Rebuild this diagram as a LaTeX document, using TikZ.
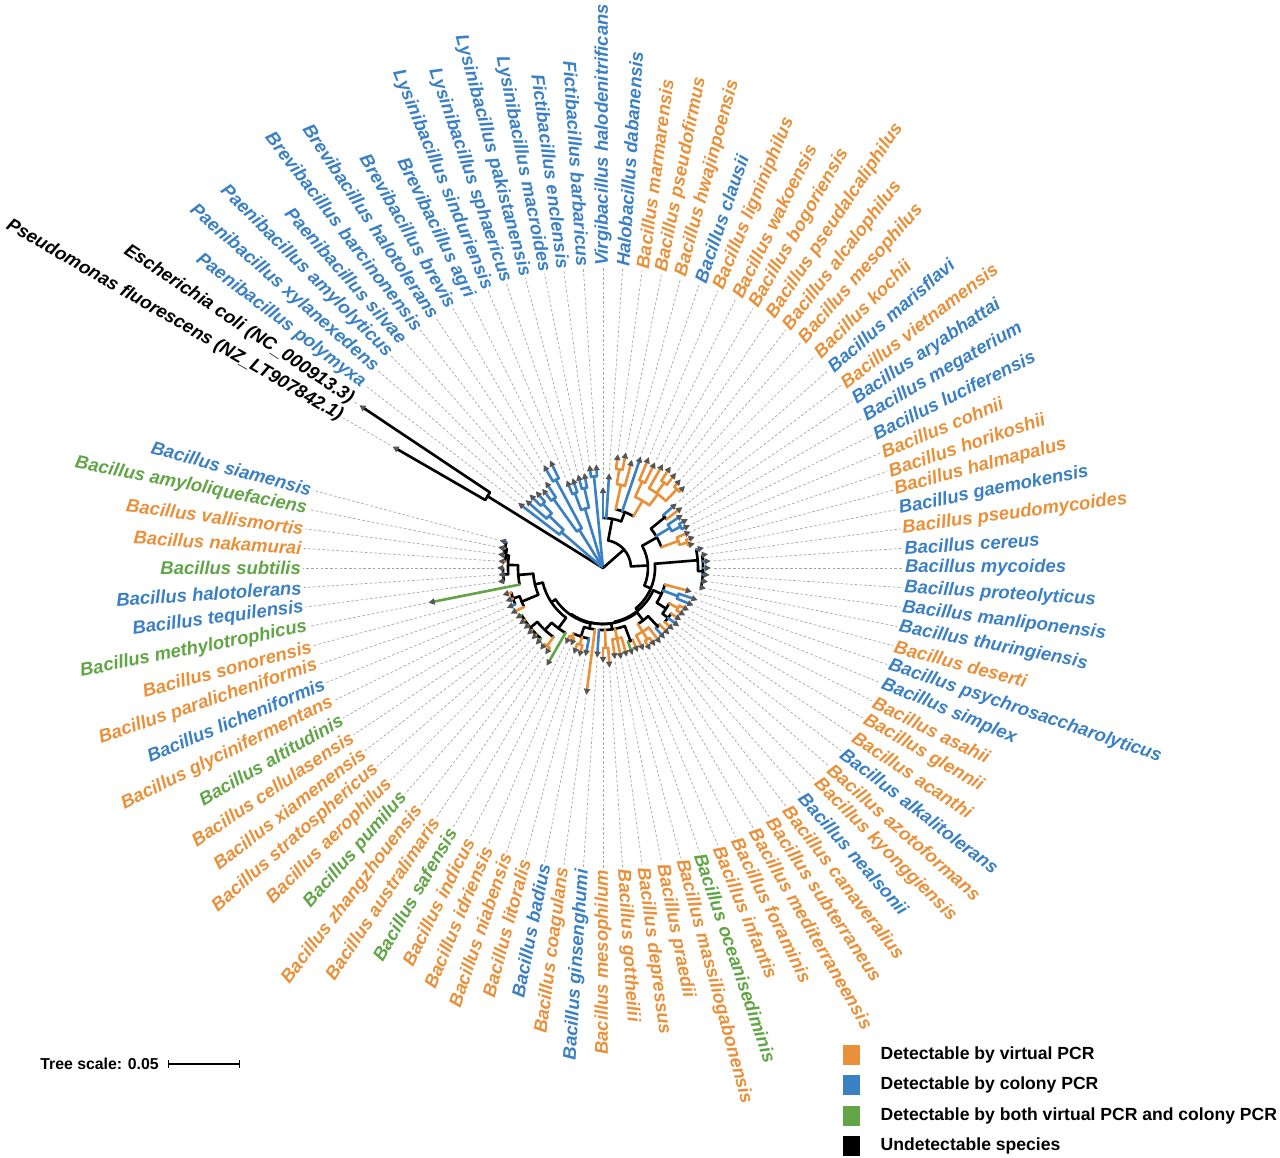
\documentclass[tikz,border=0pt]{standalone}
\usepackage{fontspec}
\setmainfont{Liberation Sans}
\usetikzlibrary{arrows.meta, positioning}
\definecolor{pcrV}{RGB}{232,145,58}
\definecolor{pcrC}{RGB}{58,128,195}
\definecolor{pcrB}{RGB}{98,165,70}
\definecolor{pcrN}{RGB}{0,0,0}
\definecolor{tipgray}{RGB}{85,85,85}

\begin{document}
\begin{tikzpicture}[
    x=0.02cm, y=0.02cm,
    branch/.style={line width=1.5pt, line cap=round},
    leaftip/.style={-{Triangle[length=3.5pt, width=3.5pt, color=tipgray, fill=tipgray]}},
    leader/.style={draw=gray!70, line width=0.4pt, dash pattern=on 1.5pt off 1.2pt},
    leaf/.style={font=\fontsize{10.5}{12}\selectfont\bfseries\itshape, inner sep=1pt},
    legbox/.style={rectangle, minimum width=0.34cm, minimum height=0.4cm, inner sep=0pt},
    legtext/.style={font=\fontsize{10}{12}\selectfont\bfseries, inner sep=0pt, anchor=west}
]
\useasboundingbox (-603,-590) rectangle (677,568);
\fill[white] (-603,-590) rectangle (677,568);

% internal nodes: first child / last child / radius / colour / parent radius
\foreach \pa/\pb/\r/\cl/\rp in {
    1/2/136/pcrN/0, 9.6875/29.992/1/pcrN/0,
    3.875/15.5/3/pcrC/1, 3/4.75/55/pcrC/3, 4/5.5/75/pcrC/55, 5/6/88/pcrC/75,
    7.5/9.5/45/pcrC/3, 7/8/85/pcrC/45, 9/10/100/pcrC/45,
    11.5/13.5/62/pcrC/3, 11/12/80/pcrC/62, 13/14/82/pcrC/62, 15/16/92/pcrC/3,
    19.844/40.14/28/pcrN/1, 17/22.688/50/pcrN/28, 20.25/25.125/60/pcrN/50,
    19.5/21/85/pcrV/60, 19/20/100/pcrV/85, 23.5/26.75/78/pcrV/60,
    23/24/95/pcrV/78, 25/28.5/92/pcrV/78, 26/27/105/pcrV/92, 28/29/108/pcrV/92,
    33.125/47.154/45/pcrN/28, 30.5/35.75/62/pcrN/45, 30/31/80/pcrN/62,
    32/33.5/78/pcrC/62, 33/34/88/pcrC/78, 35/36.5/80/pcrV/62, 36/37/88/pcrV/80,
    39.75/54.559/52/pcrN/45, 38/41.5/95/pcrN/52, 39/44/100/pcrN/95,
    47.375/61.742/55/pcrN/52, 45/49.75/64/pcrN/55, 46/47/80/pcrC/64,
    48.5/51/75/pcrN/64, 48/49/85/pcrV/75, 50/52/82/pcrN/75,
    55/68.484/56/pcrN/55, 53.5/56.5/66/pcrN/56, 53/54/80/pcrN/66,
    55/58/75/pcrV/66, 56/57/84/pcrV/75,
    62.75/74.219/56/pcrN/56, 59.5/66/62/pcrN/56, 59/60/78/pcrN/62,
    61/63/72/pcrV/62, 64/65/80/pcrV/62,
    68.375/80.063/57/pcrN/56, 67/69.75/62/pcrN/57, 68/71.5/72/pcrN/62,
    69/70/80/pcrV/72, 71/72/76/pcrV/72,
    74.75/85.375/62/pcrN/57, 73/76.5/75/pcrN/62, 74.5/78.5/85/pcrN/75,
    74/75/96/pcrV/85, 76/81/94/pcrN/85,
    83/87.75/70/pcrN/62, 82/84/88/pcrN/70, 83/85/95/pcrN/88,
    86/89.5/85/pcrN/70, 88/91/95/pcrN/85, 87/89/100/pcrN/95,
    90/92/98/pcrN/95, 91/93/100/pcrN/98}{
  \pgfmathsetmacro\aa{153.75-3.75*\pa}
  \pgfmathsetmacro\ab{153.75-3.75*\pb}
  \pgfmathsetmacro\am{(\aa+\ab)/2}
  \draw[branch, draw=\cl] (\am:\rp) -- (\am:\r);
  \draw[branch, draw=\cl] (\aa:\r) arc[start angle=\aa, end angle=\ab, radius=\r];
}

% leaves: name / colour / tip radius / parent radius
\foreach \nm/\cl/\rt/\rp [count=\i] in {
    Pseudomonas fluorescens (NZ\_LT907842.1)/pcrN/243/136,
    Escherichia coli (NC\_000913.3)/pcrN/293/136,
    Paenibacillus polymyxa/pcrC/107/55,
    Paenibacillus xylanexedens/pcrC/103/75,
    Paenibacillus amylolyticus/pcrC/104/88,
    Paenibacillus silvae/pcrC/102/88,
    Brevibacillus barcinonensis/pcrC/100/85,
    Brevibacillus halotolerans/pcrC/104/85,
    Brevibacillus brevis/pcrC/119/100,
    Brevibacillus agri/pcrC/120/100,
    Lysinibacillus sinduriensis/pcrC/95/80,
    Lysinibacillus sphaericus/pcrC/95/80,
    Lysinibacillus pakistanensis/pcrC/97/82,
    Lysinibacillus macroides/pcrC/97/82,
    Fictibacillus enclensis/pcrC/104/92,
    Fictibacillus barbaricus/pcrC/104/92,
    Virgibacillus halodenitrificans/pcrC/81/50,
    Halobacillus dabanensis/pcrC/95/50,
    Bacillus marmarensis/pcrV/115/100,
    Bacillus pseudofirmus/pcrV/118/100,
    Bacillus hwajinpoensis/pcrV/112/85,
    Bacillus clausii/pcrC/118/60,
    Bacillus ligniniphilus/pcrV/120/95,
    Bacillus wakoensis/pcrV/118/95,
    Bacillus bogoriensis/pcrV/120/92,
    Bacillus pseudalcaliphilus/pcrV/122/105,
    Bacillus alcalophilus/pcrV/120/105,
    Bacillus mesophilus/pcrV/118/108,
    Bacillus kochii/pcrV/116/108,
    Bacillus marisflavi/pcrC/98/80,
    Bacillus vietnamensis/pcrV/100/80,
    Bacillus aryabhattai/pcrC/96/78,
    Bacillus megaterium/pcrC/98/88,
    Bacillus luciferensis/pcrC/97/88,
    Bacillus cohnii/pcrV/95/80,
    Bacillus horikoshii/pcrV/97/88,
    Bacillus halmapalus/pcrV/95/88,
    Bacillus gaemokensis/pcrC/103/95,
    Bacillus pseudomycoides/pcrV/106/100,
    Bacillus cereus/pcrC/108/100,
    Bacillus mycoides/pcrC/108/100,
    Bacillus proteolyticus/pcrC/107/100,
    Bacillus manliponensis/pcrC/106/100,
    Bacillus thuringiensis/pcrC/105/100,
    Bacillus deserti/pcrV/92/64,
    Bacillus psychrosaccharolyticus/pcrC/100/80,
    Bacillus simplex/pcrC/98/80,
    Bacillus asahii/pcrV/96/85,
    Bacillus glennii/pcrV/95/85,
    Bacillus acanthi/pcrV/94/82,
    Bacillus alkalitolerans/pcrC/96/82,
    Bacillus azotoformans/pcrV/94/82,
    Bacillus kyonggiensis/pcrV/94/80,
    Bacillus nealsonii/pcrC/94/80,
    Bacillus canaveralius/pcrV/95/75,
    Bacillus subterraneus/pcrV/94/84,
    Bacillus mediterraneensis/pcrV/95/84,
    Bacillus foraminis/pcrV/92/75,
    Bacillus infantis/pcrV/91/78,
    Bacillus oceanisediminis/pcrB/92/78,
    Bacillus massiliogabonensis/pcrV/92/72,
    Bacillus praedii/pcrV/93/72,
    Bacillus depressus/pcrV/92/72,
    Bacillus gottheilii/pcrV/100/80,
    Bacillus mesophilum/pcrV/95/80,
    Bacillus ginsenghumi/pcrC/90/62,
    Bacillus coagulans/pcrV/128/62,
    Bacillus badius/pcrC/90/72,
    Bacillus litoralis/pcrV/92/80,
    Bacillus niabensis/pcrV/91/80,
    Bacillus idriensis/pcrV/84/76,
    Bacillus indicus/pcrV/85/76,
    Bacillus safensis/pcrB/113/75,
    Bacillus australimaris/pcrV/104/96,
    Bacillus zhangzhouensis/pcrV/103/96,
    Bacillus pumilus/pcrB/102/94,
    Bacillus aerophilus/pcrV/101/94,
    Bacillus stratosphericus/pcrV/101/94,
    Bacillus xiamenensis/pcrV/100/94,
    Bacillus cellulasensis/pcrV/101/94,
    Bacillus altitudinis/pcrB/101/94,
    Bacillus glycinifermentans/pcrV/103/88,
    Bacillus licheniformis/pcrC/104/95,
    Bacillus paralicheniformis/pcrV/103/95,
    Bacillus sonorensis/pcrV/104/95,
    Bacillus methylotrophicus/pcrB/178/85,
    Bacillus tequilensis/pcrC/106/100,
    Bacillus halotolerans/pcrC/105/100,
    Bacillus subtilis/pcrB/106/100,
    Bacillus nakamurai/pcrV/105/98,
    Bacillus vallismortis/pcrV/106/100,
    Bacillus amyloliquefaciens/pcrB/107/100,
    Bacillus siamensis/pcrC/107/100}{
  \pgfmathsetmacro\ang{153.75-3.75*\i}
  \pgfmathsetmacro\rot{\ang+180}
  \pgfmathsetmacro\rl{\rt+3}
  \pgfmathtruncatemacro\flip{(\ang>90.01)||(\ang<-89.99)}
  \draw[branch, draw=\cl, leaftip] (\ang:\rp) -- (\ang:\rt);
  \coordinate (tip\i) at (\ang:\rl);
  \ifnum\flip=1
    \node[leaf, text=\cl, anchor=east, rotate=\rot] (lab\i) at (\ang:300) {\nm};
  \else
    \node[leaf, text=\cl, anchor=west, rotate=\ang] (lab\i) at (\ang:300) {\nm};
  \fi
  \draw[leader] (tip\i) -- (lab\i);
}

% tree scale
\node[font=\fontsize{9}{11}\selectfont\bfseries, inner sep=0pt, anchor=west] (scl) at (-563,-496) {Tree scale: 0.05};
\coordinate (sbL) at (-435,-496);
\coordinate (sbR) at (-363,-496);
\draw[line width=0.8pt, {Bar[width=4pt]}-{Bar[width=4pt]}] (sbL) -- (sbR);

% legend
\foreach \cl/\tx [count=\j] in {pcrV/Detectable by virtual PCR,
    pcrC/Detectable by colony PCR,
    pcrB/Detectable by both virtual PCR and colony PCR,
    pcrN/Undetectable species}{
  \node[legbox, fill=\cl] (key\j) at (248.5,{-487-30.3*(\j-1)}) {};
  \node[legtext, right=0.4cm of key\j] (keytx\j) {\tx};
}
\end{tikzpicture}
\end{document}
